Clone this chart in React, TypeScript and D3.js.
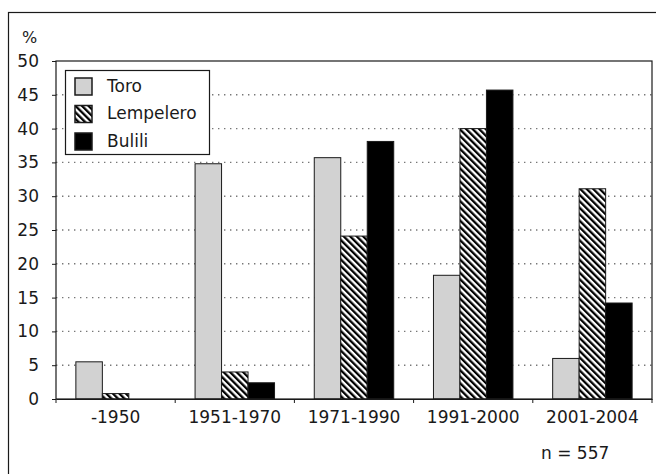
import { useEffect, useRef } from 'react';
import * as d3 from 'd3';

const categories = ['-1950', '1951-1970', '1971-1990', '1991-2000', '2001-2004'];
const seriesNames = ['Toro', 'Lempelero', 'Bulili'];
const toroValues = [5.5, 34.8, 35.7, 18.3, 6.0];
const lempeleroValues = [0.8, 4.0, 24.1, 40.0, 31.1];
const buliliValues = [0, 2.4, 38.1, 45.7, 14.2];
const yTicks = [0, 5, 10, 15, 20, 25, 30, 35, 40, 45, 50];

const seriesFills: Record<string, string> = {
  Toro: '#d2d2d2',
  Lempelero: 'url(#hatch)',
  Bulili: '#000',
};

export default function App() {
  const svgRef = useRef<SVGSVGElement>(null);

  useEffect(() => {
    if (!svgRef.current) return;
    const svg = d3.select(svgRef.current);
    svg.selectAll('*').remove();

    const width = 656;
    const height = 474;
    const margin = { top: 61, right: 4, bottom: 75, left: 56 };
    const font = '"DejaVu Sans", sans-serif';
    const ink = '#1a1a1a';

    const table = categories.map((c, i) => ({
      category: c,
      values: [
        { name: 'Toro', value: toroValues[i] },
        { name: 'Lempelero', value: lempeleroValues[i] },
        { name: 'Bulili', value: buliliValues[i] },
      ],
    }));

    // diagonal hatch for Lempelero
    const defs = svg.append('defs');
    const pat = defs.append('pattern')
      .attr('id', 'hatch')
      .attr('patternUnits', 'userSpaceOnUse')
      .attr('width', 4.6)
      .attr('height', 4.6)
      .attr('patternTransform', 'rotate(-45)');
    pat.append('rect').attr('width', 4.6).attr('height', 4.6).attr('fill', '#fff');
    pat.append('rect').attr('width', 2.3).attr('height', 4.6).attr('fill', '#000');

    // outer frame
    svg.append('rect')
      .attr('x', 8.5).attr('y', 12.5)
      .attr('width', width).attr('height', height)
      .attr('fill', 'none').attr('stroke', ink).attr('stroke-width', 1.2);

    const x0 = d3.scaleBand<string>()
      .domain(categories)
      .range([margin.left, width - margin.right]);

    const x1 = d3.scaleBand<string>()
      .domain(seriesNames)
      .range([0, x0.bandwidth()])
      .paddingOuter(0.75);

    const y = d3.scaleLinear()
      .domain([0, 50])
      .range([height - margin.bottom, margin.top]);

    // gridlines
    svg.append('g')
      .selectAll('line')
      .data(yTicks.filter(t => t > 0 && t < 50))
      .join('line')
      .attr('x1', margin.left).attr('x2', width - margin.right)
      .attr('y1', d => y(d)).attr('y2', d => y(d))
      .attr('stroke', '#777')
      .attr('stroke-width', 1.4)
      .attr('stroke-dasharray', '1.4,4.6');

    // bars
    const groups = svg.append('g')
      .selectAll('g')
      .data(table)
      .join('g')
      .attr('transform', d => `translate(${x0(d.category)},0)`);

    groups.selectAll('rect')
      .data(d => d.values.filter(v => v.value > 0))
      .join('rect')
      .attr('x', d => x1(d.name) || 0)
      .attr('y', d => y(d.value))
      .attr('width', x1.bandwidth())
      .attr('height', d => y(0) - y(d.value))
      .attr('fill', d => seriesFills[d.name])
      .attr('stroke', ink)
      .attr('stroke-width', 1);

    // plot border
    svg.append('rect')
      .attr('x', margin.left).attr('y', margin.top)
      .attr('width', width - margin.left - margin.right)
      .attr('height', y(0) - margin.top)
      .attr('fill', 'none').attr('stroke', ink).attr('stroke-width', 1.2);

    // y axis
    const yAxis = svg.append('g')
      .attr('transform', `translate(${margin.left},0)`)
      .call(d3.axisLeft(y).tickValues(yTicks).tickSize(4).tickPadding(13));
    yAxis.select('.domain').remove();
    yAxis.selectAll('line').attr('stroke', ink);
    yAxis.selectAll('text')
      .attr('fill', ink)
      .style('font-family', font)
      .style('font-size', '17px');

    // x axis
    const xAxis = svg.append('g')
      .attr('transform', `translate(0,${y(0)})`)
      .call(d3.axisBottom(x0).tickSize(0).tickPadding(12));
    xAxis.select('.domain').attr('stroke', ink).attr('stroke-width', 1.2);
    xAxis.selectAll('text')
      .attr('fill', ink)
      .style('font-family', font)
      .style('font-size', '17px');

    svg.append('g')
      .selectAll('line')
      .data(categories.concat(['end']))
      .join('line')
      .attr('x1', (d, i) => margin.left + i * x0.step())
      .attr('x2', (d, i) => margin.left + i * x0.step())
      .attr('y1', y(0)).attr('y2', y(0) + 4)
      .attr('stroke', ink);

    // % label
    svg.append('text')
      .attr('x', 22).attr('y', 43)
      .attr('fill', ink)
      .style('font-family', font)
      .style('font-size', '16px')
      .text('%');

    // n label
    svg.append('text')
      .attr('x', 541).attr('y', 459)
      .attr('fill', ink)
      .style('font-family', font)
      .style('font-size', '17px')
      .text('n = 557');

    // legend
    const legend = svg.append('g').attr('transform', 'translate(65,70)');
    legend.append('rect')
      .attr('x', 0.5).attr('y', 0.5)
      .attr('width', 144).attr('height', 84)
      .attr('fill', '#fff').attr('stroke', ink).attr('stroke-width', 1.2);
    const items = legend.selectAll('g.item')
      .data(seriesNames)
      .join('g')
      .attr('class', 'item')
      .attr('transform', (d, i) => `translate(10,${16 + i * 27.5})`);
    items.append('rect')
      .attr('x', 0).attr('y', -8)
      .attr('width', 17).attr('height', 17)
      .attr('fill', d => seriesFills[d])
      .attr('stroke', ink).attr('stroke-width', 1.5);
    items.append('text')
      .attr('x', 32).attr('y', 0)
      .attr('dy', '0.35em')
      .attr('fill', ink)
      .style('font-family', font)
      .style('font-size', '17px')
      .text(d => d);
  }, []);

  return (
    <svg
      ref={svgRef}
      width={656}
      height={474}
      style={{ position: 'fixed', left: 0, top: 0, background: '#fff' }}
    />
  );
}
